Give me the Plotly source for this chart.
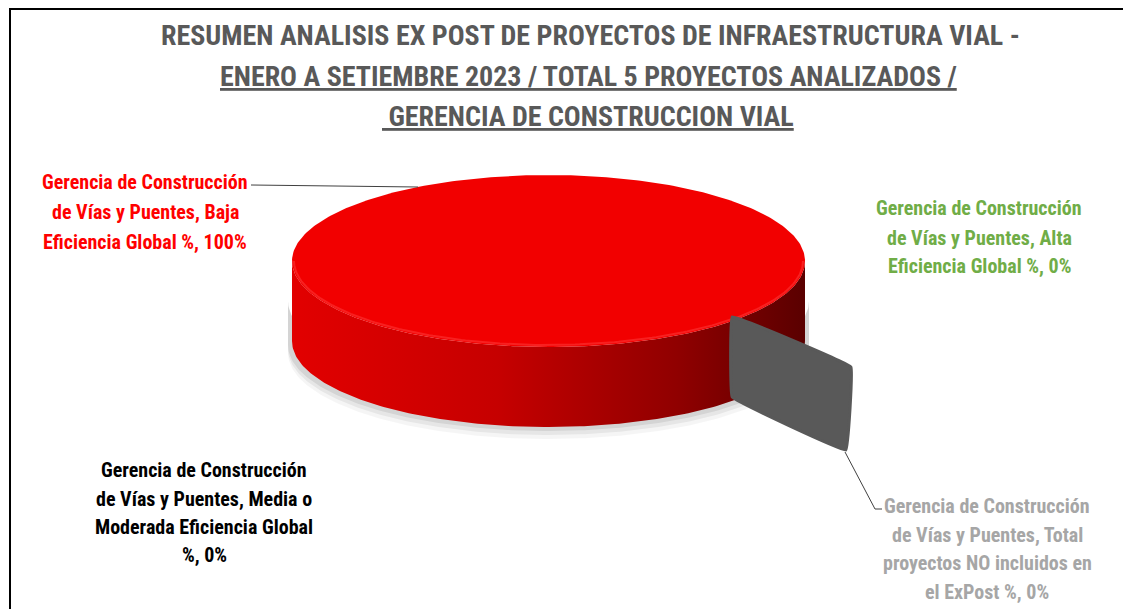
import numpy as np
import plotly.graph_objects as go

# ---------------- data ----------------
categories = [
    "Gerencia de Construcción de Vías y Puentes, Baja Eficiencia Global %",
    "Gerencia de Construcción de Vías y Puentes, Alta Eficiencia Global %",
    "Gerencia de Construcción de Vías y Puentes, Media o Moderada Eficiencia Global %",
    "Gerencia de Construcción de Vías y Puentes, Total proyectos NO incluidos en el ExPost %",
]
values = [100, 0, 0, 0]
label_lines = [
    ["Gerencia de Construcción", "de Vías y Puentes, Baja", "Eficiencia Global %, 100%"],
    ["Gerencia de Construcción", "de Vías y Puentes, Alta", "Eficiencia Global %, 0%"],
    ["Gerencia de Construcción", "de Vías y Puentes, Media o", "Moderada Eficiencia Global", "%, 0%"],
    ["Gerencia de Construcción", "de Vías y Puentes, Total", "proyectos NO incluidos en", "el ExPost %, 0%"],
]
title_lines = [
    "RESUMEN ANALISIS EX POST DE PROYECTOS DE INFRAESTRUCTURA VIAL -",
    "ENERO A SETIEMBRE 2023 / TOTAL 5 PROYECTOS ANALIZADOS /",
    " GERENCIA DE CONSTRUCCION VIAL",
]

# ---------------- styles / geometry ----------------
W, H = 1131, 609
PAD = 8  # default page body margin
FONT = "Liberation Sans Narrow, Arial Narrow, Roboto Condensed, Liberation Sans, sans-serif"
label_colors = ["#ff0000", "#70ad47", "#000000", "#a6a6a6"]
label_pos = [(145, [182, 212, 242]), (979, [208, 238, 266]),
             (204, [470, 499, 527, 555]), (987, [506, 535, 563, 592])]
title_x = [590, 588, 588]
title_y = [35, 76, 116]
cx, cy, rx, ry, depth = 548.5, 261, 256.5, 86, 80
top_color = "#f20000"
side_scale = [[0, "#e20000"], [0.4, "#c60000"], [0.75, "#900000"], [1, "#5a0000"]]
panel_norm = [(0.716, 0.651), (1.179, 1.233)]  # exploded cut face of zero slice (ellipse units)

fig = go.Figure()

total = sum(values)
fracs = [v / total for v in values]
start = 0.0
ft = np.linspace(0, np.pi, 181)
for i, f in enumerate(fracs):
    if f <= 0:
        continue
    t0, t1 = start * 2 * np.pi, (start + f) * 2 * np.pi
    t = np.linspace(t0, t1, 361)
    # shadow
    for off, op in [(12, 0.04), (8, 0.06), (4, 0.08)]:
        sx = np.concatenate([cx + (rx + 4) * np.cos(ft), cx + (rx + 4) * np.cos(ft[::-1])])
        sy = np.concatenate([cy + depth * 0.5 + ry * np.sin(ft), cy + depth + off + ry * np.sin(ft[::-1])])
        fig.add_trace(go.Scatter(x=sx, y=sy, mode="lines", line=dict(width=0), fill="toself",
                                 fillcolor=f"rgba(0,0,0,{op})", hoverinfo="skip", showlegend=False))
    # side band (front half)
    bx = np.concatenate([cx + rx * np.cos(ft), cx + rx * np.cos(ft[::-1])])
    by = np.concatenate([cy + ry * np.sin(ft), cy + depth + ry * np.sin(ft[::-1])])
    fig.add_trace(go.Scatter(x=bx, y=by, mode="lines", line=dict(width=0), fill="toself",
                             fillgradient=dict(type="horizontal", colorscale=side_scale),
                             hoverinfo="skip", showlegend=False))
    # top face
    if f >= 1:
        tx, ty = cx + rx * np.cos(t), cy + ry * np.sin(t)
    else:
        tx = np.concatenate([[cx], cx + rx * np.cos(t), [cx]])
        ty = np.concatenate([[cy], cy + ry * np.sin(t), [cy]])
    fig.add_trace(go.Scatter(x=tx, y=ty, mode="lines", line=dict(width=0), fill="toself",
                             fillcolor=top_color, hovertext=categories[i] + f", {values[i]}%",
                             hoverinfo="text", showlegend=False))
    # bevel highlight on front top edge
    fig.add_trace(go.Scatter(x=cx + (rx - 2) * np.cos(ft), y=cy + (ry - 2) * np.sin(ft), mode="lines",
                             line=dict(width=2, color="rgba(255,70,70,0.45)"),
                             hoverinfo="skip", showlegend=False))
    start += f

# zero-valued exploded slice (cut face)
(a0, b0), (a1, b1) = panel_norm
px = [cx + rx * a0, cx + rx * a1, cx + rx * a1 - 5, cx + rx * a0]
py = [cy + ry * b0, cy + ry * b1, cy + ry * b1 + 83, cy + ry * b0 + 80]
fig.add_trace(go.Scatter(x=px + [px[0]], y=py + [py[0]], mode="lines",
                         line=dict(width=3, color="#595959", shape="spline", smoothing=0.15),
                         fill="toself", fillcolor="#595959", hovertext=categories[3] + ", 0%",
                         hoverinfo="text", showlegend=False))

# labels
for i, lines in enumerate(label_lines):
    x0, ys = label_pos[i]
    for line, y in zip(lines, ys):
        fig.add_annotation(x=x0, y=y, text=f"<b>{line}</b>", showarrow=False,
                           font=dict(family=FONT, size=20, color=label_colors[i]),
                           xanchor="center", yanchor="middle")

# title
for k, (line, x, y) in enumerate(zip(title_lines, title_x, title_y)):
    txt = f"<b>{line}</b>" if k == 0 else f"<b><u>{line}</u></b>"
    fig.add_annotation(x=x, y=y, text=txt, showarrow=False,
                       font=dict(family=FONT, size=28, color="#595959"),
                       xanchor="center", yanchor="middle")

# leader lines
fig.add_shape(type="line", x0=251, y0=185, x1=418, y1=187, line=dict(color="#404040", width=1))
fig.add_shape(type="path", path="M 845 452 L 875 509 L 882 509", line=dict(color="#404040", width=1))

# frame
fig.add_shape(type="path", path=f"M 10 {H} L 10 9 L {W} 9", line=dict(color="#000000", width=2))

fig.update_xaxes(range=[PAD, W], visible=False, fixedrange=True)
fig.update_yaxes(range=[H, PAD], visible=False, fixedrange=True)
fig.update_layout(width=W - PAD, height=H - PAD, margin=dict(l=0, r=0, t=0, b=0),
                  paper_bgcolor="white", plot_bgcolor="white", showlegend=False)
fig.write_html("out.html")
